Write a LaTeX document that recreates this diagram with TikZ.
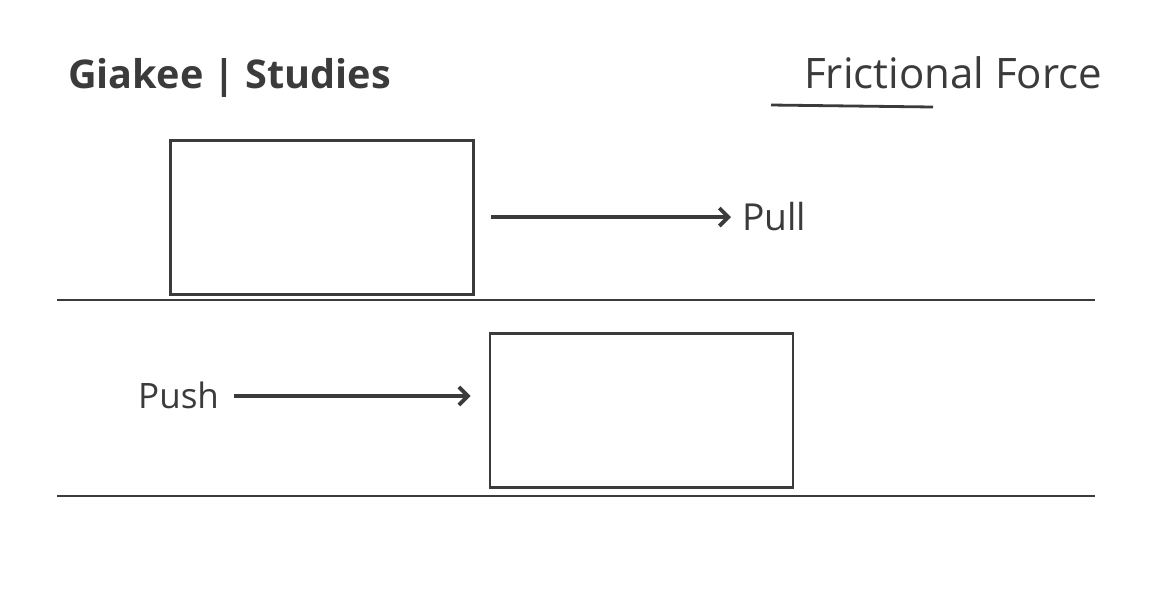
\documentclass[tikz,border=0pt]{standalone}
\usepackage{fontspec}
\setmainfont{Open Sans}
\usetikzlibrary{arrows.meta}
\definecolor{ink}{RGB}{59,59,59}

\begin{document}
\begin{tikzpicture}[x=0.5pt,y=-0.5pt,line width=1.2pt]
\tikzstyle{block}=[rectangle,draw=ink,line width=1.4pt,minimum width=151.5pt,minimum height=77pt,inner sep=0pt]
\tikzstyle{word}=[text=ink,inner sep=0pt,text depth=0pt]
\tikzstyle{ground}=[draw=ink,line width=1.3pt]
\tikzstyle{force}=[draw=ink,line width=1.6pt,-{Straight Barb[length=4.5pt,width=9pt,line width=1.9pt]}]
\fill[white] (0,0) rectangle (1152,602);
\useasboundingbox (0,0) rectangle (1152,602);

% headings
\node[word,anchor=base west,font=\bfseries\fontsize{19.8}{24}\selectfont] (brand) at (67,88) {Giakee | Studies};
\node[word,anchor=base west,font=\fontsize{21}{24}\selectfont] (title) at (803,88) {Frictional Force};
\coordinate (ulA) at (771,105);
\coordinate (ulB) at (933,107);
\draw[draw=ink,line width=1.4pt] (ulA) -- (ulB);

% pulled block
\node[block] (box1) at (322,217.5) {};
\node[word,anchor=west,text height=13.5pt,font=\fontsize{18.6}{22}\selectfont] (pull) at (741,217) {Pull};
\draw[force,shorten <=8pt,shorten >=5pt] (box1.east |- pull.west) -- (pull.west);
\coordinate (g1a) at (57,300);
\coordinate (g1b) at (1095,300);
\draw[ground] (g1a) -- (g1b);

% pushed block
\node[block] (box2) at (641.5,410.5) {};
\node[word,anchor=west,text height=12.5pt,font=\fontsize{17.5}{21}\selectfont] (push) at (137,396) {Push};
\draw[force,shorten <=7pt,shorten >=9pt] (push.east) -- (push.east -| box2.west);
\coordinate (g2a) at (57,496);
\coordinate (g2b) at (1095,496);
\draw[ground] (g2a) -- (g2b);

\end{tikzpicture}
\end{document}
